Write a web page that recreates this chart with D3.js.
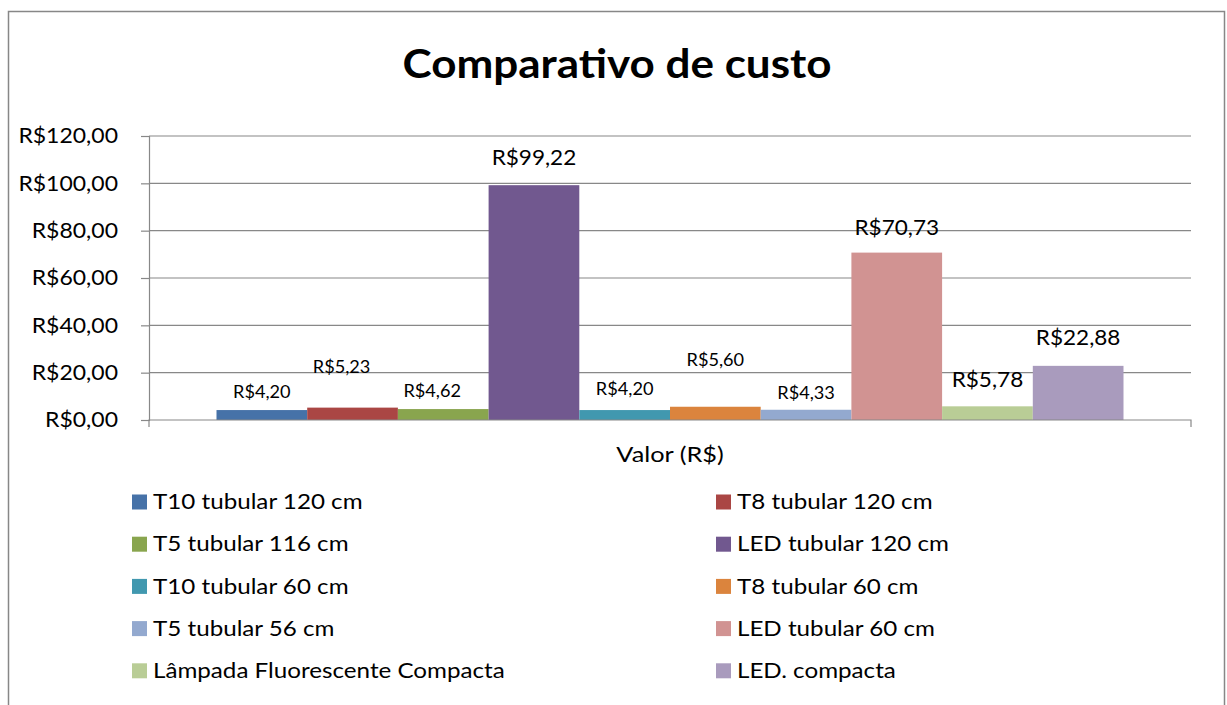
<!DOCTYPE html>
<html><head><meta charset="utf-8">
<script src="https://cdn.jsdelivr.net/npm/d3@7"></script>
<style>html,body{margin:0;padding:0;background:#fff;}svg{display:block;font-family:Lato,"Open Sans",sans-serif;}</style>
</head><body>
<svg id="c" width="1227" height="705"></svg>
<script>
const series = ["T10 tubular 120 cm","T8 tubular 120 cm","T5 tubular 116 cm","LED tubular 120 cm","T10 tubular 60 cm","T8 tubular 60 cm","T5 tubular 56 cm","LED tubular 60 cm","Lâmpada Fluorescente Compacta","LED. compacta"];
const values = [4.20,5.23,4.62,99.22,4.20,5.60,4.33,70.73,5.78,22.88];
const category = ["Valor (R$)"];
const yTicks = [0,20,40,60,80,100,120];
const colors = ["#4672A8","#AA4644","#89A54E","#71588F","#4198AF","#DB843D","#93A9CF","#D19392","#B9CD96","#A99BBD"];
// label layout (manual placement in original): dx, distance of label centre above bar top, large font flag
const labelDx = [0,-11,-11,0,0,0,0,0,0,0];
const labelRise = [18,40,18,27,21,47,17,25,27,28];
const labelLarge = [0,0,0,1,0,0,0,1,1,1];

const SX = 1.1; // horizontal stretch of the original picture's text
const fmt = v => "R$" + v.toFixed(2).replace(".", ",");
const svg = d3.select("#c");

function stext(g, x, y, s, txt) {
  return g.append("text").attr("transform", `translate(${x},${y}) scale(${s},1)`).text(txt);
}

// chart border
svg.append("rect").attr("x",8.5).attr("y",11.5).attr("width",1216).attr("height",760)
  .attr("fill","none").attr("stroke","#878787").attr("stroke-width",1.5);

stext(svg, 617, 78, SX, "Comparativo de custo").attr("text-anchor","middle")
  .attr("font-weight","bold").attr("font-size",40).attr("fill","#000");

const L=149, R=1191, T=136, B=420;
const y = d3.scaleLinear().domain([0,120]).range([B,T]);
const x0 = d3.scaleBand().domain(category).range([L,R]).paddingInner(0).paddingOuter(0);
const groupW = x0.bandwidth()*907/1042;
const x1 = d3.scaleBand().domain(d3.range(values.length)).range([0,groupW]);
const gx = x0(category[0]) + (x0.bandwidth()-groupW)/2;

// gridlines
svg.append("g").selectAll("line").data(yTicks.filter(d=>d>0)).join("line")
  .attr("x1",L).attr("x2",R).attr("y1",d=>y(d)).attr("y2",d=>y(d))
  .attr("stroke","#888").attr("stroke-width",1.2);

// y axis
const YS = 1.07;
const ya = svg.append("g").attr("transform",`translate(${L},0)`)
  .call(d3.axisLeft(y).tickValues(yTicks).tickFormat(fmt).tickSize(8).tickPadding(23));
ya.select(".domain").attr("stroke","#888").attr("stroke-width",1.2);
ya.selectAll(".tick line").attr("stroke","#888").attr("stroke-width",1.2);
ya.selectAll(".tick text").each(function(){
  const t = d3.select(this); const xx = +t.attr("x");
  t.attr("x", xx/YS).attr("transform",`scale(${YS},1)`);
}).attr("font-size",21.5).attr("fill","#000").attr("font-family","Lato");

// bars
svg.append("g").selectAll("rect").data(values).join("rect")
  .attr("x",(d,i)=>gx+x1(i)).attr("width",x1.bandwidth())
  .attr("y",d=>y(d)).attr("height",d=>B-y(d)).attr("fill",(d,i)=>colors[i]);

// x axis
const xa = svg.append("g").attr("transform",`translate(0,${B})`)
  .call(d3.axisBottom(x0).tickSize(0).tickPadding(26));
xa.select(".domain").attr("stroke","#888").attr("stroke-width",1.2).attr("d",`M${L},7V0H${R}V7`);
xa.selectAll(".tick text").attr("transform",`scale(1.15,1)`)
  .attr("font-size",22).attr("fill","#000").attr("font-family","Lato");

// labels
const lab = svg.append("g");
values.forEach((v,i)=>{
  stext(lab, gx+x1(i)+x1.bandwidth()/2+labelDx[i], y(v)-labelRise[i], SX, fmt(v))
    .attr("dy","0.35em").attr("text-anchor","middle")
    .attr("font-size",labelLarge[i]?20.5:16.5).attr("fill","#000");
});

// legend
const lg = svg.append("g").selectAll("g").data(series).join("g")
  .attr("transform",(d,i)=>`translate(${i%2===0?132:716},${502+Math.floor(i/2)*42.2})`);
lg.append("rect").attr("x",0).attr("y",-7.5).attr("width",15).attr("height",15).attr("fill",(d,i)=>colors[i]);
lg.append("text").attr("transform","translate(21,0) scale(1.18,1)").attr("dy","0.35em")
  .attr("font-size",20.5).attr("fill","#000").text(d=>d);
</script>
</body></html>
